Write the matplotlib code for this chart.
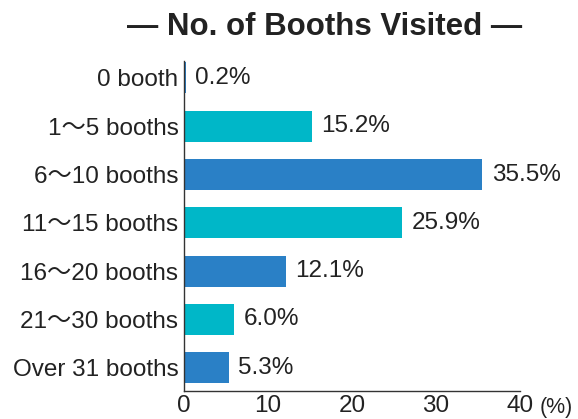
import matplotlib
matplotlib.use("Agg")
import matplotlib.pyplot as plt

plt.rcParams['font.family'] = ['Liberation Sans', 'Noto Sans CJK JP', 'DejaVu Sans']

# datos
categorias = ["0 booth", "1～5 booths", "6～10 booths", "11～15 booths",
              "16～20 booths", "21～30 booths", "Over 31 booths"]
valores = [0.2, 15.2, 35.5, 25.9, 12.1, 6.0, 5.3]
ticks_x = [0, 10, 20, 30, 40]

azul = "#2a80c6"
cian = "#00b7c8"
colores = [azul if i % 2 == 0 else cian for i in range(len(valores))]

fs = 17.5

fig = plt.figure(figsize=(5.78, 4.19), dpi=100)
ax = fig.add_axes([184 / 578, 1 - 391 / 419, 336 / 578, 330 / 419])

pos = list(range(len(categorias)))
ax.barh(pos, valores, height=0.64, color=colores)

for p, v in zip(pos, valores):
    ax.annotate(f"{v:.1f}%", (v, p), xytext=(7, 0), textcoords="offset points",
                va="center", ha="left", fontsize=fs, color="#222222")

ax.set_ylim(6.48, -0.35)
ax.set_xlim(0, 40)
ax.set_yticks(pos)
ax.set_yticklabels(categorias, fontsize=fs, color="#222222")
ax.set_xticks(ticks_x)
ax.set_xticklabels([str(t) for t in ticks_x], fontsize=fs, color="#222222")
ax.tick_params(axis="both", length=0, pad=4)
ax.tick_params(axis="x", pad=3)

for lado in ["top", "right"]:
    ax.spines[lado].set_visible(False)
for lado in ["left", "bottom"]:
    ax.spines[lado].set_color("#333333")
    ax.spines[lado].set_linewidth(1)

# unidad al lado del 40
ax.annotate("(%)", (40, 0), xycoords=("data", "axes fraction"), xytext=(14, -4),
            textcoords="offset points", ha="left", va="top", fontsize=15.5,
            color="#222222")

fig.text(325 / 578, 1 - 27 / 419, "— No. of Booths Visited —", ha="center", va="center",
         fontsize=22.5, fontweight="bold", color="#222222")

fig.savefig("out.png", dpi=100)
